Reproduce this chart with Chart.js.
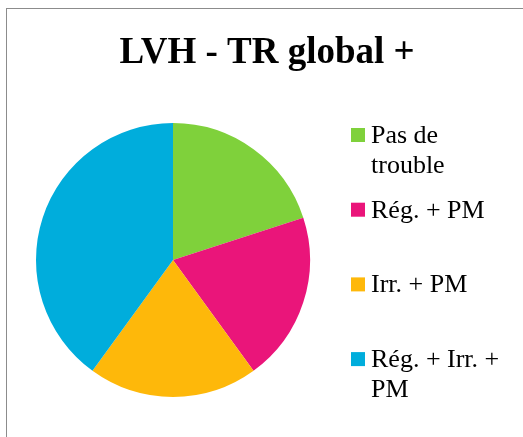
<!DOCTYPE html>
<html>
<head>
<meta charset="utf-8">
<script src="https://cdn.jsdelivr.net/npm/chart.js@4/dist/chart.umd.min.js"></script>
<style>
  html, body { margin: 0; padding: 0; background: #fff; }
  #wrap { width: 523px; height: 437px; }
</style>
</head>
<body>
<div id="wrap"><canvas id="chartOne"></canvas></div>
<script>
var chartTitle = 'LVH - TR global +';
var categories = ['Pas de trouble', 'Rég. + PM', 'Irr. + PM', 'Rég. + Irr. + PM'];
var counts = [1, 1, 1, 2];
var colors = ['#7FD13B', '#EA157A', '#FEB80A', '#00ADDC'];

// frame, title and the side legend (wrapped like the office legend)
var decorations = {
    id: 'decorations',
    beforeDraw: function (chart) {
        var ctx = chart.ctx;
        ctx.save();
        ctx.fillStyle = '#fff';
        ctx.fillRect(0, 0, chart.width, chart.height);
        ctx.strokeStyle = '#8c8c8c';
        ctx.lineWidth = 1;
        ctx.strokeRect(6.5, 8.5, 700, 700);
        ctx.restore();
    },
    afterDraw: function (chart) {
        var ctx = chart.ctx;
        ctx.save();
        ctx.fillStyle = '#000';
        ctx.textAlign = 'center';
        ctx.textBaseline = 'alphabetic';
        ctx.font = 'bold 37px "Liberation Serif", "Times New Roman", serif';
        ctx.fillText(chartTitle, 267, 63);

        ctx.textAlign = 'left';
        ctx.font = '26px "Liberation Serif", "Times New Roman", serif';
        var maxWidth = 140;
        var step = 74.7;
        for (var i = 0; i < categories.length; i++) {
            var base = 143 + i * step;
            ctx.fillStyle = colors[i];
            ctx.fillRect(351, base - 15, 14, 14);
            ctx.fillStyle = '#000';
            var words = categories[i].split(' ');
            var line = '';
            var y = base;
            for (var w = 0; w < words.length; w++) {
                var test = line ? line + ' ' + words[w] : words[w];
                if (line && ctx.measureText(test).width > maxWidth) {
                    ctx.fillText(line, 371, y);
                    line = words[w];
                    y += 30;
                } else {
                    line = test;
                }
            }
            ctx.fillText(line, 371, y);
        }
        ctx.restore();
    }
};

new Chart(document.getElementById('chartOne'), {
    type: 'pie',
    data: {
        labels: categories,
        datasets: [{
            data: counts,
            backgroundColor: colors,
            borderWidth: 0
        }]
    },
    options: {
        responsive: true,
        maintainAspectRatio: false,
        animation: false,
        layout: {
            padding: { left: 36, right: 213, top: 123, bottom: 40 }
        },
        plugins: {
            legend: { display: false },
            title: { display: false },
            tooltip: { enabled: false }
        }
    },
    plugins: [decorations]
});
</script>
</body>
</html>
